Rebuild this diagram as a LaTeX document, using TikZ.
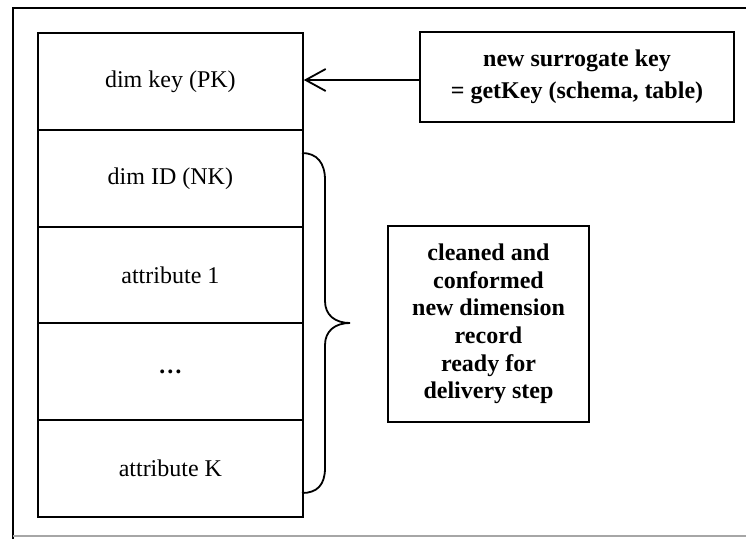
\documentclass[tikz,border=0pt]{standalone}
\usepackage{fontspec}
\setmainfont{Liberation Serif}
\usetikzlibrary{arrows.meta}
\begin{document}
\begin{tikzpicture}[x=1pt,y=-1pt,
  line/.style={line width=1.8pt},
  cell/.style={draw,line width=1.8pt,minimum width=265pt,minimum height=97pt,inner sep=0pt,font=\fontsize{24}{28}\selectfont,anchor=north west},
  infobox/.style={draw,line width=1.8pt,inner sep=0pt,align=center,font=\bfseries\fontsize{24}{27.6}\selectfont}]
\useasboundingbox (0,0) rectangle (746,539);
% outer frame
\draw[line width=1.8pt] (746,8) -- (13,8) -- (13,539);
\draw[line width=1.2pt,black!35] (13,536) -- (746,536);
% table rows
\node[cell] (r1) at (37,32) {\raisebox{-2pt}{dim key (PK)}};
\node[cell] (r2) at (37,129) {\raisebox{-2pt}{dim ID (NK)}};
\node[cell] (r3) at (37,225.5) {\raisebox{-2pt}{attribute 1}};
\node[cell] (r4) at (37,322) {\textbf{\dots}};
\node[cell] (r5) at (37,419) {\raisebox{-2pt}{attribute K}};
% surrogate key box
\node[infobox,minimum width=314pt,minimum height=90pt,font=\bfseries\fontsize{24}{31.5}\selectfont] (sk) at (577,77) {new surrogate key\\= getKey (schema, table)};
% cleaned box
\node[infobox,minimum width=201pt,minimum height=196pt] (cl) at (488.5,324) {cleaned and\\conformed\\new dimension\\record\\ready for\\delivery step};
% arrow
\draw[line width=1.8pt,-{Straight Barb[length=20pt,width=22pt,line width=1.8pt]}] (sk.west |- 0,80) -- (r1.east |- 0,80);
% brace
\coordinate (b0) at (302,153);
\coordinate (tip) at (350,323);
\coordinate (b1) at (302,493);
\draw[line width=1.8pt] (b0) .. controls (317,153) and (325,163) .. (325,180) -- (325,301)
  .. controls (325,315) and (335,323) .. (tip)
  .. controls (335,323) and (325,331) .. (325,345) -- (325,468)
  .. controls (325,485) and (317,493) .. (b1);
\end{tikzpicture}
\end{document}
